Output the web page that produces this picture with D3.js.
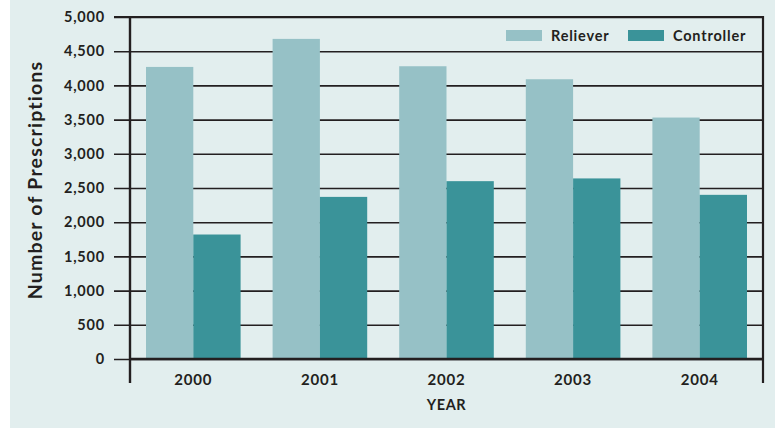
<!doctype html>
<html>
  <head>
    <style>
      body { margin: 0; background: #fff; }
      text { font-family: Lato, 'Open Sans', sans-serif; fill: #231f20; }
    </style>
  </head>
  <body>
    <svg id='chart0'></svg>

    <script src='https://d3js.org/d3.v7.min.js'></script>
    <script>
      // prescriptions per year
      const years = ['2000', '2001', '2002', '2003', '2004'];
      const series = ['Reliever', 'Controller'];
      const reliever = [4270, 4680, 4280, 4090, 3530];
      const controller = [1820, 2370, 2600, 2640, 2400];
      const y_ticks = [0, 500, 1000, 1500, 2000, 2500, 3000, 3500, 4000, 4500, 5000];
      const colors = ['#96c1c6', '#3a9399'];

      const rows = years.map((yr, i) => ({year: yr, values: [reliever[i], controller[i]]}));

      const width = 775;
      const height = 429;
      const margin = ({top: 17, right: 12, bottom: 70, left: 130});
      const ink = '#231f20';

      const svg = d3.select('svg#chart0')
                    .attr('width', width)
                    .attr('height', height);

      // pale panel behind everything
      svg.append('rect')
         .attr('x', 10).attr('y', 0)
         .attr('width', width - 10).attr('height', 428)
         .attr('fill', '#e2eeee');

      const x0 = d3.scaleBand()
                   .domain(years)
                   .range([margin.left, width - margin.right]);
      const x1 = d3.scaleBand()
                   .domain(series)
                   .range([16, x0.bandwidth() - 16]);
      const y = d3.scaleLinear()
                  .domain([0, 5000])
                  .range([height - margin.bottom, margin.top]);

      const right = width - margin.right;
      const bottom = height - margin.bottom;

      // gridlines + tick labels: axis hung from the right frame
      const grid = svg.append('g')
                      .attr('transform', `translate(${right},0)`)
                      .call(d3.axisLeft(y)
                              .tickValues(y_ticks)
                              .tickFormat(d3.format(','))
                              .tickSize(right - 114)
                              .tickPadding(9));
      grid.select('.domain').remove();
      grid.selectAll('.tick line')
          .attr('stroke', ink)
          .attr('stroke-width', 1.6);
      grid.selectAll('.tick text')
          .attr('font-size', 14.5)
          .attr('font-weight', 700)
          .attr('letter-spacing', 0.8)
          .attr('fill', ink);

      // bars
      const group = svg.append('g')
                       .selectAll('g')
                       .data(rows)
                       .join('g')
                       .attr('transform', d => `translate(${x0(d.year)},0)`);
      group.selectAll('rect')
           .data(d => d.values.map((v, i) => ({key: series[i], value: v, i: i})))
           .join('rect')
           .attr('x', d => x1(d.key))
           .attr('width', x1.bandwidth())
           .attr('y', d => y(d.value))
           .attr('height', d => y(0) - y(d.value))
           .attr('fill', d => colors[d.i]);

      // frame: left axis, right edge, zero line
      svg.append('line')
         .attr('x1', margin.left).attr('x2', margin.left)
         .attr('y1', margin.top - 1).attr('y2', 383)
         .attr('stroke', ink).attr('stroke-width', 2.4);
      svg.append('line')
         .attr('x1', right).attr('x2', right)
         .attr('y1', margin.top - 1).attr('y2', 383)
         .attr('stroke', ink).attr('stroke-width', 2.2);
      svg.append('line')
         .attr('x1', margin.left).attr('x2', right)
         .attr('y1', bottom).attr('y2', bottom)
         .attr('stroke', ink).attr('stroke-width', 2.4);
      svg.append('line')
         .attr('x1', 114).attr('x2', right)
         .attr('y1', margin.top).attr('y2', margin.top)
         .attr('stroke', ink).attr('stroke-width', 2.2);

      // year labels
      const xa = svg.append('g')
                    .attr('transform', `translate(0,${bottom})`)
                    .call(d3.axisBottom(x0).tickSize(0).tickPadding(15));
      xa.select('.domain').remove();
      xa.selectAll('.tick text')
        .attr('font-size', 15)
        .attr('font-weight', 700)
        .attr('letter-spacing', 0.8)
        .attr('fill', ink);

      svg.append('text')
         .attr('x', (margin.left + right) / 2)
         .attr('y', 410)
         .attr('text-anchor', 'middle')
         .attr('font-size', 14.5)
         .attr('font-weight', 700)
         .attr('letter-spacing', 0.6)
         .text('YEAR');

      svg.append('text')
         .attr('transform', 'translate(42,180) rotate(-90)')
         .attr('text-anchor', 'middle')
         .attr('font-size', 19.5)
         .attr('font-weight', 700)
         .attr('letter-spacing', 1.2)
         .text('Number of Prescriptions');

      // legend
      const legend_x = [506, 628];
      const legend = svg.append('g')
                        .selectAll('g')
                        .data(series)
                        .join('g')
                        .attr('transform', (d, i) => `translate(${legend_x[i]},30)`);
      legend.append('rect')
            .attr('width', 36).attr('height', 11)
            .attr('fill', (d, i) => colors[i]);
      legend.append('text')
            .attr('x', 45).attr('y', 11)
            .attr('font-size', 14.5)
            .attr('font-weight', 700)
            .attr('letter-spacing', 0.8)
            .text(d => d);
    </script>
  </body>
</html>
